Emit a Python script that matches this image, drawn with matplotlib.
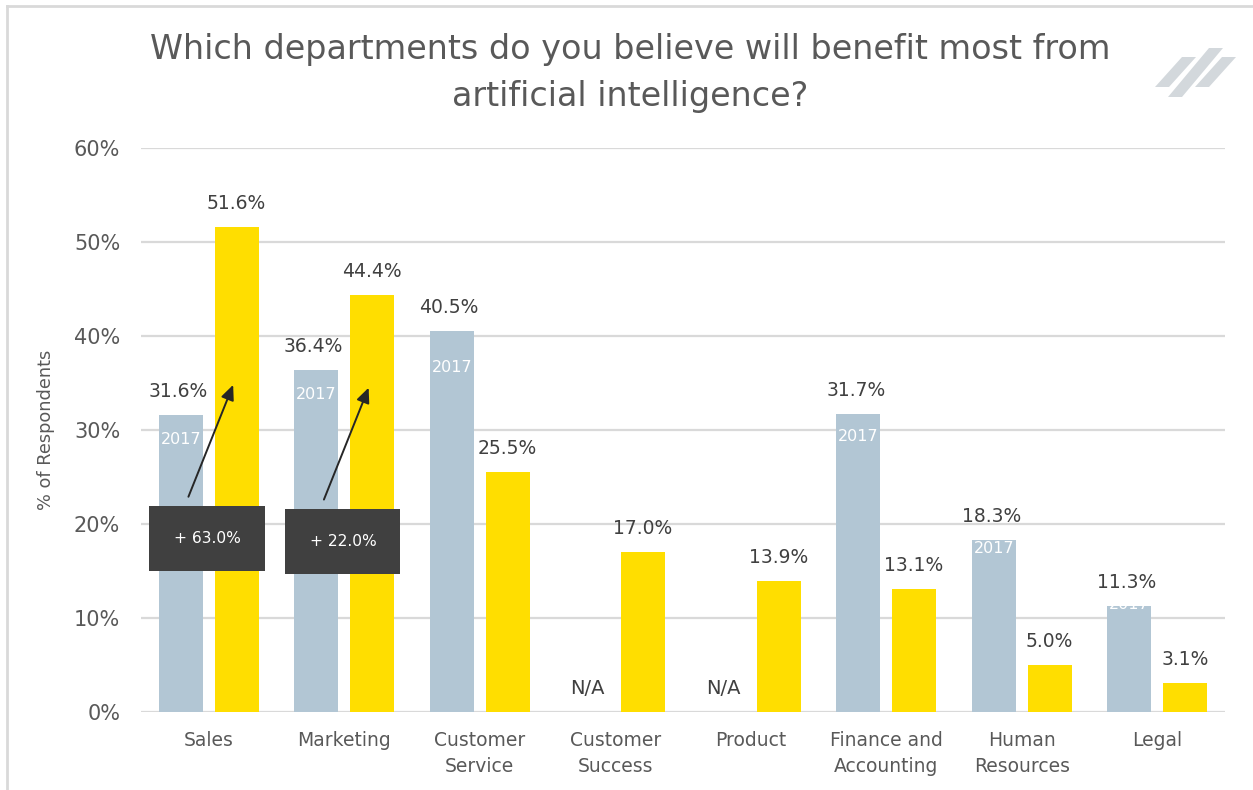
import matplotlib
matplotlib.use("Agg")
import matplotlib.pyplot as plt
from matplotlib.patches import Polygon, Rectangle
from matplotlib.lines import Line2D
import numpy as np

# ---- data ----
categories = ["Sales", "Marketing", "Customer\nService", "Customer\nSuccess",
              "Product", "Finance and\nAccounting", "Human\nResources", "Legal"]
values_2017 = [31.6, 36.4, 40.5, None, None, 31.7, 18.3, 11.3]
values_2018 = [51.6, 44.4, 25.5, 17.0, 13.9, 13.1, 5.0, 3.1]
growth_labels = {0: "+ 63.0%", 1: "+ 22.0%"}
y_ticks = [0, 10, 20, 30, 40, 50, 60]
title = "Which departments do you believe will benefit most from\nartificial intelligence?"

# ---- style ----
GREY_BAR = "#b2c6d4"
YELLOW = "#ffde00"
TEXT = "#404040"
LABEL = "#595959"
GRID = "#d9d9d9"
BOX = "#404040"
plt.rcParams["font.family"] = ["DejaVu Sans"]

W, H = 1253, 790
fig = plt.figure(figsize=(W / 100, H / 100), dpi=100)
ax = fig.add_axes([141 / W, 1 - 712 / H, (1225 - 141) / W, (712 - 148) / H])

x = np.arange(len(categories))
bw = 0.325
off = 0.205

ax.set_xlim(-0.5, len(categories) - 0.5)
ax.set_ylim(0, 60)
ax.set_yticks(y_ticks)
ax.set_yticklabels([f"{t}%" for t in y_ticks], fontsize=15, color=LABEL)
ax.tick_params(axis="y", length=0, pad=15)
ax.set_xticks(x)
ax.set_xticklabels(categories, fontsize=13.5, color=LABEL, linespacing=1.45)
ax.tick_params(axis="x", length=0, pad=14)
for s in ax.spines.values():
    s.set_visible(False)
ax.grid(axis="y", color=GRID, linewidth=1.6)
ax.set_axisbelow(True)
ax.set_ylabel("% of Respondents", fontsize=12.8, color=LABEL)
ax.yaxis.set_label_coords((55 - 141) / 1084, 0.5)

# offsets (points below bar top) for the "2017" tags inside grey bars
tag_offsets = {0: 18, 1: 18, 2: 26, 5: 16, 6: 6, 7: -1}

for i in range(len(categories)):
    v17 = values_2017[i]
    v18 = values_2018[i]
    if v17 is not None:
        bar = ax.bar(x[i] - off, v17, width=bw, color=GREY_BAR, zorder=2)[0]
        ax.annotate(f"{v17:.1f}%", (x[i] - off, v17), xytext=(-2, 17),
                    textcoords="offset points", ha="center", va="center",
                    fontsize=13.5, color=TEXT)
        t = ax.annotate("2017", (x[i] - off, v17), xytext=(0, -tag_offsets[i]),
                        textcoords="offset points", ha="center", va="center",
                        fontsize=11.5, color="white", zorder=3)
        t.set_clip_path(bar)
    else:
        ax.text(x[i] - off, 2.5, "N/A", ha="center", va="center",
                fontsize=14, color=TEXT)
    ax.bar(x[i] + off, v18, width=bw, color=YELLOW, zorder=2)
    ax.annotate(f"{v18:.1f}%", (x[i] + off, v18), xytext=(0, 17),
                textcoords="offset points", ha="center", va="center",
                fontsize=13.5, color=TEXT)

# growth callouts
box_bottoms = {0: 15.0, 1: 14.7}
for i, lab in growth_labels.items():
    b = box_bottoms[i]
    ax.annotate("", xy=(x[i] + 0.18, b + 19.8), xytext=(x[i] - 0.15, b + 7.9),
                arrowprops=dict(arrowstyle="-|>,head_length=0.9,head_width=0.4",
                                color="#262626", lw=1.4, shrinkA=0, shrinkB=0),
                zorder=5)
    ax.add_patch(Rectangle((x[i] - 0.44, b), 0.855, 6.9, facecolor=BOX,
                           edgecolor="none", zorder=6))
    ax.text(x[i] - 0.01, b + 3.45, lab, ha="center", va="center",
            fontsize=11.2, color="white", zorder=7)

# title
fig.text(630 / W, 1 - 73 / H, title, ha="center", va="center", fontsize=24,
         color=LABEL, linespacing=1.52)

# frame lines
fig.add_artist(Line2D([7 / W, 7 / W], [0, 1 - 6 / H], color=GRID, lw=2,
                      transform=fig.transFigure))
fig.add_artist(Line2D([7 / W, 1], [1 - 6 / H, 1 - 6 / H], color=GRID, lw=2,
                      transform=fig.transFigure))

# logo mark: three slanted strokes
def stroke(x0, y0, x1, y1, w):
    pts = [(x0, y0), (x0 + w, y0), (x1 + w, y1), (x1, y1)]
    return Polygon([(px / W, 1 - py / H) for px, py in pts], closed=True,
                   transform=fig.transFigure, facecolor="#d3d8dc",
                   edgecolor="none")

fig.add_artist(stroke(1155, 87, 1182, 57, 14))
fig.add_artist(stroke(1168, 97, 1209, 48, 14))
fig.add_artist(stroke(1195, 87, 1222, 57, 14))

fig.savefig("out.png", dpi=100, facecolor="white")
